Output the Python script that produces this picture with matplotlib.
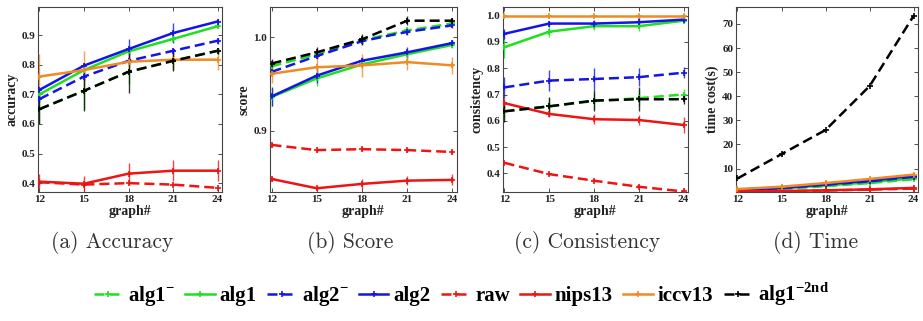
import matplotlib
matplotlib.use("Agg")
import matplotlib.pyplot as plt
import numpy as np

graphs = [12, 15, 18, 21, 24]

methods = ["alg1-", "alg1", "alg2-", "alg2", "raw", "nips13", "iccv13", "alg1-2nd"]
labels = [r"alg1$^{\mathbf{-}}$", "alg1", r"alg2$^{\mathbf{-}}$", "alg2", "raw", "nips13", "iccv13",
          r"alg1$^{\mathbf{-2nd}}$"]
colors = ["#1ee01e", "#1ee01e", "#1414e6", "#1414e6", "#ee1414", "#ee1414", "#f08a24", "#000000"]
styles = ["--", "-", "--", "-", "--", "-", "-", "--"]

# Accuracy
acc = {
    "alg1-":    [0.650, 0.712, 0.776, 0.813, 0.847],
    "alg1":     [0.700, 0.782, 0.845, 0.887, 0.930],
    "alg2-":    [0.684, 0.760, 0.813, 0.847, 0.881],
    "alg2":     [0.715, 0.797, 0.853, 0.907, 0.946],
    "raw":      [0.403, 0.395, 0.400, 0.395, 0.384],
    "nips13":   [0.405, 0.398, 0.432, 0.442, 0.442],
    "iccv13":   [0.760, 0.782, 0.810, 0.817, 0.817],
    "alg1-2nd": [0.650, 0.712, 0.776, 0.813, 0.847],
}
acc_err = {
    "alg1-":    [0.050, 0.060, 0.040, 0.030, 0.010],
    "alg1":     [0.010, 0.010, 0.010, 0.010, 0.005],
    "alg2-":    [0.010, 0.010, 0.010, 0.010, 0.010],
    "alg2":     [0.010, 0.010, 0.035, 0.033, 0.010],
    "raw":      [0.010, 0.005, 0.005, 0.005, 0.005],
    "nips13":   [0.025, 0.025, 0.035, 0.035, 0.035],
    "iccv13":   [0.075, 0.065, 0.030, 0.030, 0.035],
    "alg1-2nd": [0.050, 0.070, 0.070, 0.035, 0.010],
}

# Score
score = {
    "alg1-":    [0.969, 0.982, 0.997, 1.0075, 1.015],
    "alg1":     [0.936, 0.956, 0.971, 0.982, 0.992],
    "alg2-":    [0.963, 0.980, 0.996, 1.006, 1.013],
    "alg2":     [0.9366, 0.959, 0.975, 0.984, 0.994],
    "raw":      [0.8846, 0.879, 0.880, 0.879, 0.877],
    "nips13":   [0.848, 0.838, 0.8427, 0.8462, 0.847],
    "iccv13":   [0.961, 0.968, 0.970, 0.9735, 0.970],
    "alg1-2nd": [0.972, 0.984, 0.998, 1.018, 1.018],
}
score_err = {
    "alg1-":    [0.004, 0.004, 0.004, 0.004, 0.003],
    "alg1":     [0.010, 0.008, 0.004, 0.004, 0.003],
    "alg2-":    [0.003, 0.003, 0.003, 0.003, 0.003],
    "alg2":     [0.010, 0.008, 0.004, 0.006, 0.003],
    "raw":      [0.002, 0.002, 0.002, 0.002, 0.002],
    "nips13":   [0.002, 0.002, 0.005, 0.005, 0.006],
    "iccv13":   [0.010, 0.012, 0.012, 0.008, 0.009],
    "alg1-2nd": [0.005, 0.006, 0.006, 0.005, 0.003],
}

# Consistency
cons = {
    "alg1-":    [0.636, 0.655, 0.675, 0.686, 0.700],
    "alg1":     [0.880, 0.939, 0.960, 0.960, 0.981],
    "alg2-":    [0.727, 0.753, 0.759, 0.766, 0.783],
    "alg2":     [0.931, 0.970, 0.970, 0.975, 0.985],
    "raw":      [0.440, 0.397, 0.372, 0.349, 0.331],
    "nips13":   [0.667, 0.626, 0.606, 0.603, 0.584],
    "iccv13":   [1.000, 1.000, 1.000, 1.000, 1.000],
    "alg1-2nd": [0.636, 0.655, 0.677, 0.682, 0.682],
}
cons_err = {
    "alg1-":    [0.030, 0.030, 0.030, 0.030, 0.020],
    "alg1":     [0.040, 0.020, 0.015, 0.020, 0.010],
    "alg2-":    [0.040, 0.040, 0.040, 0.035, 0.020],
    "alg2":     [0.020, 0.010, 0.015, 0.020, 0.010],
    "raw":      [0.005, 0.005, 0.005, 0.005, 0.005],
    "nips13":   [0.020, 0.010, 0.020, 0.020, 0.030],
    "iccv13":   [0.000, 0.000, 0.000, 0.000, 0.000],
    "alg1-2nd": [0.040, 0.035, 0.040, 0.045, 0.020],
}

# Time cost (s)
tcost = {
    "alg1-":    [0.9, 1.6, 2.7, 4.0, 5.6],
    "alg1":     [1.0, 1.8, 3.0, 4.3, 6.0],
    "alg2-":    [1.1, 1.9, 3.3, 4.7, 6.6],
    "alg2":     [1.2, 2.0, 3.5, 5.0, 7.0],
    "raw":      [0.4, 0.6, 0.9, 1.3, 1.7],
    "nips13":   [0.5, 0.7, 1.0, 1.4, 2.0],
    "iccv13":   [1.5, 2.5, 4.0, 5.7, 7.5],
    "alg1-2nd": [5.9, 16.0, 26.0, 44.2, 73.3],
}
tcost_err = {
    "alg1-":    [0.2, 0.2, 0.3, 0.4, 0.5],
    "alg1":     [0.2, 0.2, 0.3, 0.4, 0.5],
    "alg2-":    [0.2, 0.2, 0.3, 0.4, 0.5],
    "alg2":     [0.2, 0.2, 0.3, 0.4, 0.5],
    "raw":      [0.1, 0.1, 0.1, 0.2, 0.2],
    "nips13":   [0.1, 0.1, 0.2, 0.2, 0.3],
    "iccv13":   [0.1, 0.1, 0.1, 0.1, 0.1],
    "alg1-2nd": [0.0, 0.0, 0.0, 0.0, 0.0],
}

panels = [
    (acc, acc_err, "accuracy", (0.37, 0.995), [0.4, 0.5, 0.6, 0.7, 0.8, 0.9], "(a) Accuracy"),
    (score, score_err, "score", (0.834, 1.0327), [0.9, 1.0], "(b) Score"),
    (cons, cons_err, "consistency", (0.329, 1.033), [0.4, 0.5, 0.6, 0.7, 0.8, 0.9, 1.0], "(c) Consistency"),
    (tcost, tcost_err, "time cost(s)", (0.3, 77), [10, 20, 30, 40, 50, 60, 70], "(d) Time"),
]

plt.rcParams["mathtext.fontset"] = "custom"
plt.rcParams["mathtext.rm"] = "Liberation Serif:bold"
plt.rcParams["mathtext.bf"] = "Liberation Serif:bold"

W, H = 923, 321
fig = plt.figure(figsize=(W / 100, H / 100), dpi=100)

boxes = [(38, 222), (270, 457), (503, 688), (736, 918)]
caption_x = [112, 350, 587, 816]
top_px, bot_px = 7, 192

tickfont = dict(family="Liberation Serif", weight="bold", size=8)
labfont = dict(family="Liberation Serif", weight="bold", size=10)

handles = []
for i, (data, err, ylab, ylim, yticks, cap) in enumerate(panels):
    l, r = boxes[i]
    ax = fig.add_axes([l / W, 1 - bot_px / H, (r - l) / W, (bot_px - top_px) / H])
    hs = []
    for m, c, ls in zip(methods, colors, styles):
        ax.errorbar(graphs, data[m], yerr=err[m], color=c, ecolor=c, elinewidth=1.0,
                    capsize=0, linestyle="none", alpha=0.8, zorder=2)
        h, = ax.plot(graphs, data[m], color=c, linestyle=ls, linewidth=1.8,
                     marker="+", markersize=5, markeredgewidth=1.2, zorder=3,
                     dashes=(4, 2) if ls == "--" else (None, None))
        hs.append(h)
    if i == 0:
        handles = hs
    ax.set_xlim(11.9, 24.3)
    ax.set_ylim(*ylim)
    ax.set_xticks(graphs)
    ax.set_yticks(yticks)
    if i == 3:
        ax.set_yticklabels([str(t) for t in yticks], fontdict=tickfont)
    else:
        ax.set_yticklabels(["%.1f" % t for t in yticks], fontdict=tickfont)
    ax.set_xticklabels([str(g) for g in graphs], fontdict=tickfont)
    ax.tick_params(direction="in", top=True, right=True, length=3, width=0.6, pad=2,
                   colors="#333333", labelcolor="#222222")
    for s in ax.spines.values():
        s.set_color("#444444")
        s.set_linewidth(0.8)
    ax.set_xlabel("graph#", fontdict=labfont, labelpad=1, color="#222222")
    ax.set_ylabel(ylab, fontdict=labfont, labelpad=2, color="#222222")
    fig.text(caption_x[i] / W, 1 - 243 / H, cap, ha="center", va="center",
             family="cmr10", fontsize=15.5, color="#333333")

leg = fig.legend(handles, labels, loc="center", bbox_to_anchor=(0.5, 1 - 294 / H), ncol=8,
                 frameon=False, handlelength=1.4, handletextpad=0.25, columnspacing=0.5,
                 prop=dict(family="Liberation Serif", weight="bold", size=15))

fig.savefig("out.png", dpi=100)
